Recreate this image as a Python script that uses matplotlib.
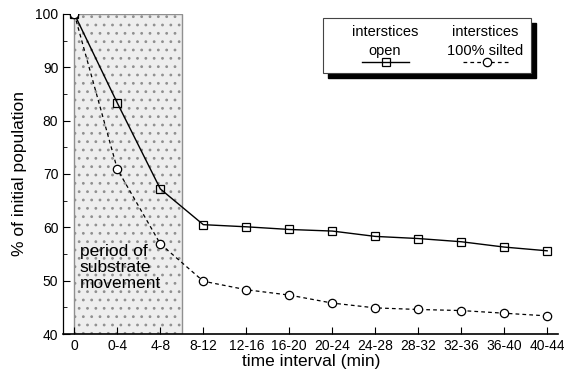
import matplotlib.pyplot as plt
from matplotlib.patches import Rectangle
from matplotlib.lines import Line2D

plt.rcParams['font.family'] = ['Liberation Sans', 'DejaVu Sans']
plt.rcParams['hatch.color'] = '#8a8a8a'
plt.rcParams['hatch.linewidth'] = 0.8

# time intervals and % of initial population
intervals = ['0', '0-4', '4-8', '8-12', '12-16', '16-20', '20-24',
             '24-28', '28-32', '32-36', '36-40', '40-44']
open_pct = [100, 83.3, 67.2, 60.5, 60.1, 59.6, 59.3, 58.3, 57.9, 57.3, 56.3, 55.6]
silted_pct = [100, 70.9, 56.9, 49.9, 48.3, 47.3, 45.8, 44.9, 44.6, 44.4, 43.9, 43.4]
movement_end = 2.5   # substrate moving until just past the 4-8 interval

x = list(range(len(intervals)))

fig = plt.figure(figsize=(5.64, 3.77), dpi=100)
ax = fig.add_axes([0.112, 0.114, 0.878, 0.849])

# shaded block for the period of substrate movement
ax.add_patch(Rectangle((0, 40), movement_end, 60, facecolor='#eeeeee',
                       edgecolor='#909090', hatch='..', linewidth=1.0, zorder=0))

ax.plot(x, open_pct, 'k-', lw=1.0, marker='s', ms=5.5, mfc='none', mec='k', mew=0.9, zorder=3)
ax.plot(x, silted_pct, 'k', ls=(0, (3, 2.5)), lw=0.9, marker='o', ms=6, mfc='white',
        mec='k', mew=0.9, zorder=3)

ax.set_xlim(-0.26, 11.26)
ax.set_ylim(40, 100)
ax.set_xticks(x)
ax.set_xticklabels(intervals)
ax.set_yticks(range(40, 101, 10))
ax.set_yticks(range(45, 100, 10), minor=True)
ax.tick_params(direction='in', labelsize=10, length=5, width=0.8)
ax.tick_params(which='minor', direction='in', length=3, width=0.6)
for s in ['top', 'right']:
    ax.spines[s].set_visible(False)
ax.spines['left'].set_linewidth(0.9)
ax.spines['bottom'].set_linewidth(1.2)

ax.set_xlabel('time interval (min)', fontsize=12.5, labelpad=1)
ax.set_ylabel('% of initial population', fontsize=12.5, labelpad=6)

ax.text(0.12, 56.8, 'period of\nsubstrate\nmovement', fontsize=12.5, va='top',
        ha='left', linespacing=1.05)

# legend box with drop shadow, in figure pixels
W, H = 564.0, 377.0


def fx(px):
    return px / W


def fy(py):
    return 1 - py / H


fig.patches.append(Rectangle((fx(328), fy(78)), fx(536) - fx(328), fy(23) - fy(78),
                             transform=fig.transFigure, facecolor='black',
                             edgecolor='black', zorder=5))
fig.patches.append(Rectangle((fx(323), fy(73)), fx(531) - fx(323), fy(18) - fy(73),
                             transform=fig.transFigure, facecolor='white',
                             edgecolor='#444444', linewidth=0.8, zorder=6))

fig.text(fx(385), fy(32), 'interstices', ha='center', va='center', fontsize=10.5, zorder=7)
fig.text(fx(385), fy(51), 'open', ha='center', va='center', fontsize=10.5, zorder=7)
fig.text(fx(485), fy(32), 'interstices', ha='center', va='center', fontsize=10.5, zorder=7)
fig.text(fx(485), fy(51), '100% silted', ha='center', va='center', fontsize=10.5, zorder=7)

fig.lines.append(Line2D([fx(362), fx(409)], [fy(62), fy(62)], transform=fig.transFigure,
                        color='k', lw=1.0, zorder=7))
fig.lines.append(Line2D([fx(386)], [fy(62)], transform=fig.transFigure, marker='s',
                        ms=5.5, mfc='none', mec='k', mew=0.9, zorder=8))
fig.lines.append(Line2D([fx(463), fx(510)], [fy(62), fy(62)], transform=fig.transFigure,
                        color='k', lw=0.9, ls=(0, (3, 2.5)), zorder=7))
fig.lines.append(Line2D([fx(487)], [fy(62)], transform=fig.transFigure, marker='o',
                        ms=6, mfc='white', mec='k', mew=0.9, zorder=8))

plt.savefig('out.png', dpi=100)
